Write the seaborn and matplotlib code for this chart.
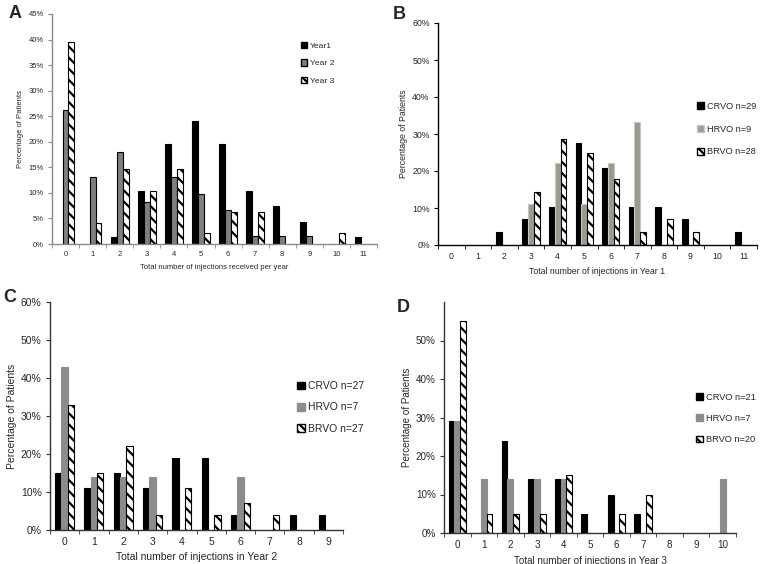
import numpy as np
import pandas as pd
import seaborn as sns
import matplotlib.pyplot as plt
from matplotlib.patches import Patch
from matplotlib.ticker import FixedLocator

sns.set_style("white")
plt.rcParams["font.family"] = ["Liberation Sans", "DejaVu Sans"]
plt.rcParams["hatch.linewidth"] = 1.6

# ---- data (percent of patients) ----
# A: all eyes, by year
a_x = list(range(12))
a_year1 = [0, 0, 1.3, 10.4, 19.5, 24.0, 19.5, 10.4, 7.4, 4.4, 0, 1.4]
a_year2 = [26.2, 13.1, 18.0, 8.2, 13.1, 9.8, 6.6, 1.6, 1.6, 1.6, 0, 0]
a_year3 = [39.6, 4.2, 14.6, 10.4, 14.6, 2.1, 6.3, 6.3, 0, 0, 2.1, 0]

# B: year 1 by RVO type
b_x = list(range(12))
b_crvo = [0, 0, 3.4, 6.9, 10.3, 27.6, 20.7, 10.3, 10.3, 6.9, 0, 3.4]
b_hrvo = [0, 0, 0, 11.1, 22.2, 11.1, 22.2, 33.3, 0, 0, 0, 0]
b_brvo = [0, 0, 0, 14.3, 28.6, 25.0, 17.9, 3.6, 7.1, 3.6, 0, 0]

# C: year 2 by RVO type
c_x = list(range(10))
c_crvo = [15, 11, 15, 11, 19, 19, 4, 0, 4, 4]
c_hrvo = [43, 14, 14, 14, 0, 0, 14, 0, 0, 0]
c_brvo = [33, 15, 22, 4, 11, 4, 7, 4, 0, 0]

# D: year 3 by RVO type
d_x = list(range(11))
d_crvo = [29, 0, 24, 14, 14, 5, 10, 5, 0, 0, 0]
d_hrvo = [29, 14, 14, 14, 14, 0, 0, 0, 0, 0, 14]
d_brvo = [55, 5, 5, 5, 15, 0, 5, 10, 0, 0, 0]

HATCH = "\\\\\\"


def long_df(x, series, names):
    rows = []
    for name, vals in zip(names, series):
        for xi, v in zip(x, vals):
            rows.append({"n": str(xi), "pct": v, "grp": name})
    return pd.DataFrame(rows)


def panel(ax, x, series, names, colors, ymax, ystep, yticks_max, xlabel,
          fs, spine_col, hrvo_edge):
    df = long_df(x, series, names)
    sns.barplot(data=df, x="n", y="pct", hue="grp", hue_order=names,
                palette=colors, width=0.65, legend=False, ax=ax,
                edgecolor="black", linewidth=0.8)
    for i, cont in enumerate(ax.containers):
        for p in cont.patches:
            if i == 0:
                p.set_edgecolor(colors[0])
            elif i == 1:
                p.set_edgecolor(hrvo_edge)
            else:
                p.set_facecolor("white")
                p.set_hatch(HATCH)
                p.set_edgecolor("black")
            if p.get_height() == 0:
                p.set_visible(False)
    n = len(x)
    ax.set_xlim(-0.5, n - 0.5)
    ax.set_ylim(0, ymax)
    yt = np.arange(0, yticks_max + 0.1, ystep)
    ax.set_yticks(yt)
    ax.set_yticklabels([f"{v:.0f}%" for v in yt], fontsize=fs)
    ax.set_xticks(range(n))
    ax.set_xticklabels([str(v) for v in x], fontsize=fs)
    ax.xaxis.set_minor_locator(FixedLocator(np.arange(-0.5, n, 1.0)))
    ax.tick_params(axis="x", which="major", length=0, pad=5)
    ax.tick_params(axis="x", which="minor", length=3, direction="out",
                   color=spine_col, bottom=True)
    ax.tick_params(axis="y", length=3, direction="out", color=spine_col,
                   left=True, pad=3)
    sns.despine(ax=ax)
    for s in ["left", "bottom"]:
        ax.spines[s].set_color(spine_col)
        ax.spines[s].set_linewidth(1.0)
    ax.set_xlabel(xlabel, fontsize=fs, labelpad=4)
    ax.set_ylabel("Percentage of Patients", fontsize=fs, labelpad=3)
    ax.grid(False)


def handles(colors, hrvo_edge):
    return [Patch(facecolor=colors[0], edgecolor=colors[0]),
            Patch(facecolor=colors[1], edgecolor=hrvo_edge),
            Patch(facecolor="white", edgecolor="black", hatch="\\\\\\\\")]


W, H = 760, 564
fig = plt.figure(figsize=(7.6, 5.64), dpi=100)


def box(l, r, t, b):
    return [l / W, 1 - b / H, (r - l) / W, (b - t) / H]


axA = fig.add_axes(box(52, 377, 14, 244))
axB = fig.add_axes(box(438, 757, 23, 245))
axC = fig.add_axes(box(50, 343, 302, 530))
axD = fig.add_axes(box(444, 736, 302, 533))

colA = ["black", "#7f7f7f", "white"]
colB = ["black", "#9c9c8e", "white"]
colCD = ["black", "#8c8c8c", "white"]

panel(axA, a_x, [a_year1, a_year2, a_year3], ["Year1", "Year 2", "Year 3"],
      colA, 45, 5, 45, "Total number of injections received per year",
      5.5, "#8a8a8a", "black")
panel(axB, b_x, [b_crvo, b_hrvo, b_brvo], ["CRVO n=29", "HRVO n=9", "BRVO n=28"],
      colB, 60, 10, 60, "Total number of injections in Year 1",
      6.3, "black", "#c8c8bc")
panel(axC, c_x, [c_crvo, c_hrvo, c_brvo], ["CRVO n=27", "HRVO n=7", "BRVO n=27"],
      colCD, 60, 10, 60, "Total number of injections in Year 2",
      7.5, "#333333", "#8c8c8c")
panel(axD, d_x, [d_crvo, d_hrvo, d_brvo], ["CRVO n=21", "HRVO n=7", "BRVO n=20"],
      colCD, 60, 10, 50, "Total number of injections in Year 3",
      7.1, "#333333", "#8c8c8c")

legend_specs = [
    (axA, ["Year1", "Year 2", "Year 3"], colA, "black", 301, 42, 6.1, 1.1),
    (axB, ["CRVO n=29", "HRVO n=9", "BRVO n=28"], colB, "#c8c8bc", 697, 102, 6.6, 1.5),
    (axC, ["CRVO n=27", "HRVO n=7", "BRVO n=27"], colCD, "#8c8c8c", 297, 381, 7.5, 1.1),
    (axD, ["CRVO n=21", "HRVO n=7", "BRVO n=20"], colCD, "#8c8c8c", 696, 393, 6.7, 1.3),
]
for ax, labels, cols, hedge, lx, ly, lfs, sp in legend_specs:
    ax.legend(handles=handles(cols, hedge), labels=labels, loc="upper left",
              bbox_to_anchor=(lx / W, 1 - ly / H), bbox_transform=fig.transFigure,
              frameon=False, fontsize=lfs, handlelength=0.75, handleheight=0.75,
              handletextpad=0.3, labelspacing=sp, borderaxespad=0, borderpad=0)

for letter, lx, ly in [("A", 9, 5), ("B", 393, 6), ("C", 3, 289), ("D", 397, 299)]:
    fig.text(lx / W, 1 - ly / H, letter, fontsize=13, fontweight="bold",
             ha="left", va="top")

fig.savefig("out.png", dpi=100)
